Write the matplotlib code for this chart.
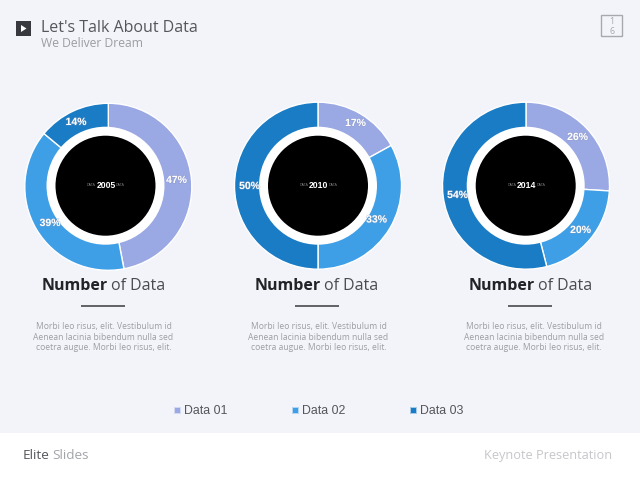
import matplotlib
matplotlib.use("Agg")
import matplotlib.pyplot as plt
import matplotlib.patheffects as pe
from matplotlib.patches import Circle, Rectangle, Polygon

plt.rcParams['font.family'] = ['Open Sans', 'DejaVu Sans']

# data
years = ["2005", "2010", "2014"]
data_01 = [47, 17, 26]
data_02 = [39, 33, 20]
data_03 = [14, 50, 54]
legend_names = ["Data 01", "Data 02", "Data 03"]
body_text = "Morbi leo risus, elit. Vestibulum id\nAenean lacinia bibendum nulla sed\ncoetra augue. Morbi leo risus, elit."

# layout, in pixels from the top left
colors = ["#9aa8e3", "#3f9fe6", "#1a7cc4"]
ring_x = [108.3, 318, 526]
ring_y = [186.8, 185.7, 185.7]
hole_x = [105.5, 318, 525.7]
hole_y = [185.7, 185.7, 185.7]
label_pos = [[(176.5, 180), (50, 223), (76, 122)],
             [(355.5, 123), (376.5, 219.5), (249.5, 186)],
             [(577.5, 137), (580.5, 230), (457.5, 195)]]
title_x = [41.5, 254.5, 468.5]
rule_x = [81, 295, 508]
body_x = [103.5, 318.5, 534]
legend_x = [177, 295, 413]

BG = "#f3f4f9"


def Y(y):
    return 480 - y


fig = plt.figure(figsize=(6.4, 4.8), dpi=100, facecolor=BG)
ax = fig.add_axes([0, 0, 1, 1])

for i in range(3):
    vals = [data_01[i], data_02[i], data_03[i]]
    ax.pie(vals, colors=colors, startangle=90, counterclock=False,
           center=(ring_x[i], Y(ring_y[i])), radius=83.5,
           wedgeprops=dict(width=40, edgecolor="white", linewidth=1))
    ax.add_patch(Circle((hole_x[i], Y(hole_y[i])), 59, fc="white", ec="none", zorder=3))
    ax.add_patch(Circle((hole_x[i], Y(hole_y[i])), 50, fc="black", ec="none", zorder=4))
    ax.text(hole_x[i] + 0.5, Y(hole_y[i]) + 0.3, years[i], color="white", fontsize=6.2,
            fontweight="bold", ha="center", va="center", zorder=6,
            family=["Liberation Sans"])
    for side in (-1, 1):
        ax.text(hole_x[i] + 0.5 + side * 14.5, Y(hole_y[i]) + 0.8, "DATA", color="#77787c",
                fontsize=2.6, ha="center", va="center", zorder=5,
                family=["Liberation Sans"])
    for v, (px, py) in zip(vals, label_pos[i]):
        ax.text(px, Y(py), "%d%%" % v, color="white", fontsize=7.5, fontweight="bold",
                ha="center", va="center", zorder=7, family=["Liberation Sans"],
                path_effects=[pe.withStroke(linewidth=1, foreground="#8f97b8", alpha=0.35)])

    ax.text(title_x[i], Y(286), "Number", color="#222326", fontsize=11.5,
            fontweight="bold", ha="left", va="center")
    ax.text(title_x[i] + 69.5, Y(286), "of Data", color="#4a4b50", fontsize=11.5,
            ha="left", va="center")
    ax.plot([rule_x[i], rule_x[i] + 44], [Y(306), Y(306)], color="#55565a", lw=1.3,
            solid_capstyle="butt")
    ax.text(body_x[i], Y(337), body_text, color="#9c9ea5", fontsize=6.15,
            ha="center", va="center", linespacing=1.25)

# legend
for x, c, name in zip(legend_x, colors, legend_names):
    ax.add_patch(Rectangle((x - 3.5, Y(414)), 7, 7, fc=c, ec="none", alpha=0.35))
    ax.add_patch(Rectangle((x - 2.5, Y(413)), 5, 5, fc=c, ec="none"))
    ax.text(x + 6.5, Y(411), name, color="#55565a", fontsize=8.9, ha="left", va="center",
            family=["Liberation Sans"])

# header
ax.add_patch(Rectangle((16, Y(36)), 15, 15, fc="#38393e", ec="none"))
ax.add_patch(Polygon([(21, Y(25)), (21, Y(32)), (26.5, Y(28.5))], fc="white", ec="none"))
ax.text(41, Y(28), "Let's Talk About Data", color="#55565c", fontsize=11.5, ha="left", va="center")
ax.text(41, Y(43.5), "We Deliver Dream", color="#9b9da4", fontsize=8.7, ha="left", va="center")

# page number
ax.add_patch(Rectangle((601, Y(36)), 21, 21, fc="none", ec="#a8a9ad", lw=1))
ax.text(611.5, Y(21), "1", color="#a8a9ad", fontsize=6.4, ha="center", va="center")
ax.text(611.5, Y(31), "6", color="#a8a9ad", fontsize=6.4, ha="center", va="center")

# footer
ax.add_patch(Rectangle((0, 0), 640, 47, fc="white", ec="none"))
ax.text(22.5, Y(455.5), "Elite", color="#55565c", fontsize=9.7, ha="left", va="center")
ax.text(52, Y(455.5), "Slides", color="#a3a5ab", fontsize=9.7, ha="left", va="center")
ax.text(612.5, Y(455.5), "Keynote Presentation", color="#c6c7cb", fontsize=9.2, ha="right", va="center")

ax.set_xlim(0, 640)
ax.set_ylim(0, 480)
ax.set_aspect("auto")
ax.axis("off")

fig.savefig("out.png", dpi=100, facecolor=BG)
